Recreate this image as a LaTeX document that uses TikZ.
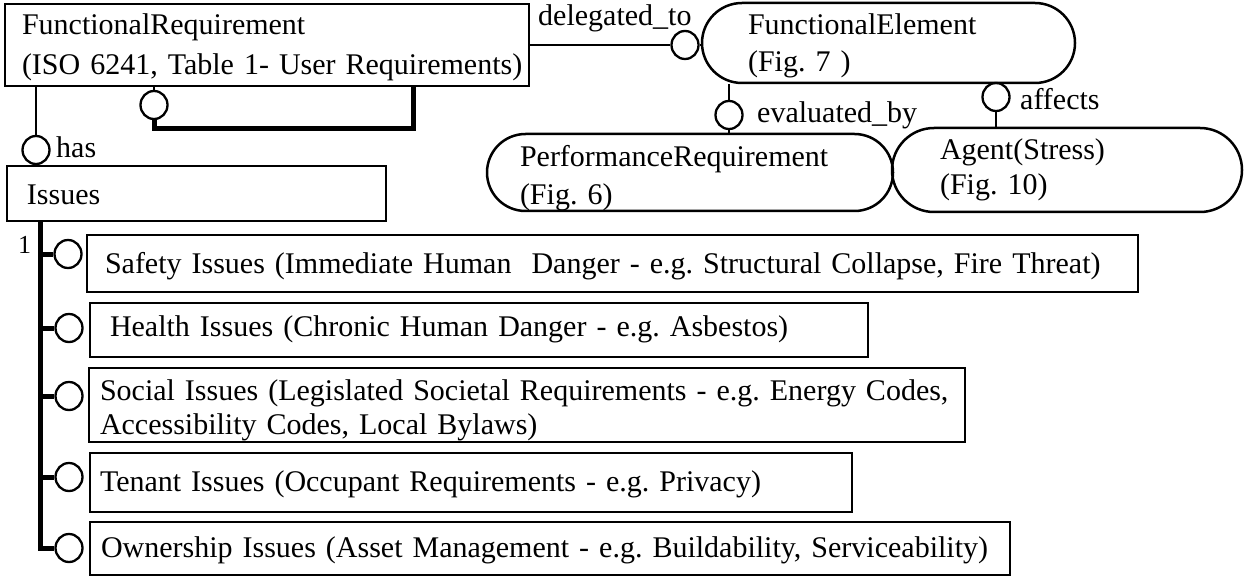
\documentclass[tikz,border=0pt]{standalone}
\usepackage{fontspec}
\setmainfont{Liberation Serif}
\usetikzlibrary{shapes.geometric}
\frenchspacing
\begin{document}
\frenchspacing
\begin{tikzpicture}[x=1pt,y=-1pt,
  box/.style={draw, line width=2.5pt, rectangle, inner ysep=0pt, align=left,
    font=\fontsize{30}{38}\selectfont\frenchspacing},
  ring/.style={draw, line width=2.3pt, ellipse, minimum width=27pt,
    minimum height=28pt, inner sep=0pt},
  conn/.style={line width=2.3pt},
  heavy/.style={line width=5pt},
  lbl/.style={font=\fontsize{30}{36}\selectfont, inner sep=0pt, anchor=base west}]
\useasboundingbox (0,0) rectangle (1246,577);

% main boxes
\node[box, text width=490pt, inner xsep=17pt, text height=31pt, text depth=51pt,
  font=\fontsize{30}{40}\selectfont\frenchspacing] (FR) at (267,45)
  {\mbox{FunctionalRequirement}\\\mbox{(ISO 6241, Table 1- User Requirements)}};
\node[box, text width=339pt, inner xsep=20pt, text height=39pt, text depth=16pt]
  (IS) at (196.5,193.5) {Issues};
\node[box, rounded corners=40pt, text width=281pt, inner xsep=46pt,
  text height=32pt, text depth=48pt, font=\fontsize{30}{37}\selectfont\frenchspacing]
  (FE) at (888.5,43) {FunctionalElement\\(Fig. 7 )};
\node[box, rounded corners=38.5pt, text width=340pt, inner xsep=33pt,
  text height=33pt, text depth=44pt] (PR) at (690,172.5)
  {PerformanceRequirement\\(Fig. 6)};
\node[box, rounded corners=42pt, text width=254pt, inner xsep=48pt,
  text height=32pt, text depth=52pt, font=\fontsize{30}{35}\selectfont\frenchspacing]
  (AG) at (1067,170) {Agent(Stress)\\(Fig. 10)};

% issue boxes
\node[box, text width=1015pt, inner xsep=18pt, text height=38pt, text depth=19pt]
  (S1) at (612.5,263.5)
  {\mbox{Safety Issues (Immediate Human\ \ Danger - e.g. Structural Collapse, Fire Threat)}};
\node[box, text width=738pt, inner xsep=20pt, text height=33pt, text depth=21pt]
  (S2) at (479,330)
  {\mbox{Health Issues (Chronic Human Danger - e.g. Asbestos)}};
\node[box, text width=854pt, inner xsep=11pt, text height=32pt, text depth=42pt,
  font=\fontsize{30}{34}\selectfont\frenchspacing] (S3) at (527,405)
  {\mbox{Social Issues (Legislated Societal Requirements - e.g. Energy Codes,}\\\mbox{Accessibility Codes, Local Bylaws)}};
\node[box, text width=742pt, inner xsep=10pt, text height=38pt, text depth=21pt]
  (S4) at (471,482.5)
  {\mbox{Tenant Issues (Occupant Requirements - e.g. Privacy)}};
\node[box, text width=898pt, inner xsep=11pt, text height=35pt, text depth=18pt]
  (S5) at (550,548.5)
  {\mbox{Ownership Issues (Asset Management - e.g. Buildability, Serviceability)}};

% rings
\node[ring] (hc) at (36,150) {};
\node[ring] (lc) at (154,105) {};
\node[ring] (dc) at (685,45) {};
\node[ring] (ec) at (729,115) {};
\node[ring] (ac) at (996,97) {};
\node[ring] (c1) at (68,254) {};
\node[ring] (c2) at (69,328) {};
\node[ring] (c3) at (69,396) {};
\node[ring] (c4) at (69,477) {};
\node[ring] (c5) at (69,548) {};

% connectors
\draw[conn] (hc.north |- FR.south) -- (hc.north);
\draw[conn] (hc.south) -- (hc.south |- IS.north);
\draw[conn] (lc.north |- FR.south) -- (lc.north);
\coordinate (lp) at (413,129);
\draw[heavy] (lc.south) |- (lp) -- (lp |- FR.south);
\draw[conn] (FR.east |- dc.west) -- (dc.west);
\draw[conn] (dc.east) -- (dc.east -| FE.west);
\draw[conn] (ec.north |- FE.south) -- (ec.north);
\draw[conn] (ec.south) -- (ec.south |- PR.north);
\draw[conn] (ac.north |- FE.south) -- (ac.north);
\draw[conn] (ac.south) -- (ac.south |- AG.north);
\coordinate (tb) at (40,548);
\draw[heavy] (tb |- IS.south) -- (tb) -- (c5.west);
\foreach \c in {c1,c2,c3,c4}{\draw[heavy] (\c.west -| tb) -- (\c.west);}

% labels
\node[lbl] (l1) at (538,26) {delegated\_to};
\node[lbl] (l2) at (757,123) {evaluated\_by};
\node[lbl] (l3) at (1020,110) {affects};
\node[lbl] (l4) at (56,158) {has};
\node[lbl, font=\fontsize{26}{30}\selectfont] (l5) at (18,253) {1};
\end{tikzpicture}
\end{document}
